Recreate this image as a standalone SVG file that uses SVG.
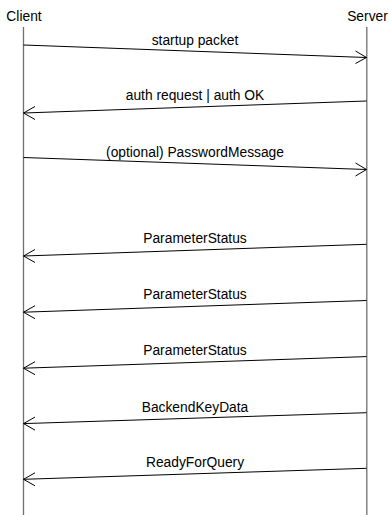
<svg xmlns="http://www.w3.org/2000/svg" width="389" height="515" viewBox="0 0 389 515">
<style>
text{font-family:"Liberation Sans",Arial,sans-serif;font-size:13.8px;fill:#000;text-anchor:middle}
.life{stroke:#707070;stroke-width:1.3;fill:none}
.msg{stroke:#000;stroke-width:1;fill:none}
.head{stroke:#000;stroke-width:1;fill:none}
</style>
<rect width="389" height="515" fill="#fff"/>
<g id="client">
<text x="24" y="20.5">Client</text>
<line class="life" x1="23.5" y1="27" x2="23.5" y2="515"/>
</g>
<g id="server">
<text x="367.5" y="20.5">Server</text>
<line class="life" x1="366.8" y1="27" x2="366.8" y2="515"/>
</g>
<g id="connectors">
<line class="msg" x1="23.5" y1="45" x2="366.5" y2="57.5"/>
<polyline class="head" points="355.5,51 366.5,57.5 355.5,63.5"/>
<text x="195" y="44.5">startup packet</text>

<line class="msg" x1="366.5" y1="101" x2="23.5" y2="113"/>
<polyline class="head" points="35,106.5 23.5,113 35,119.5"/>
<text x="195" y="100">auth request | auth OK</text>

<line class="msg" x1="23.5" y1="157.5" x2="366.5" y2="169.5"/>
<polyline class="head" points="355.5,163 366.5,169.5 355.5,176"/>
<text x="195" y="156.5">(optional) PasswordMessage</text>

<line class="msg" x1="366.5" y1="244.3" x2="23.5" y2="256"/>
<polyline class="head" points="35,249.5 23.5,256 35,262.5"/>
<text x="195" y="243">ParameterStatus</text>

<line class="msg" x1="366.5" y1="300.5" x2="23.5" y2="312.2"/>
<polyline class="head" points="35,305.7 23.5,312.2 35,318.7"/>
<text x="195" y="299">ParameterStatus</text>

<line class="msg" x1="366.5" y1="356.6" x2="23.5" y2="368.2"/>
<polyline class="head" points="35,361.7 23.5,368.2 35,374.7"/>
<text x="195" y="355.3">ParameterStatus</text>

<line class="msg" x1="366.5" y1="412.7" x2="23.5" y2="423.6"/>
<polyline class="head" points="35,417.1 23.5,423.6 35,430.1"/>
<text x="195" y="411.5">BackendKeyData</text>

<line class="msg" x1="366.5" y1="468.3" x2="23.5" y2="479.3"/>
<polyline class="head" points="35,472.8 23.5,479.3 35,485.8"/>
<text x="195" y="467.3">ReadyForQuery</text>
</g>
</svg>
